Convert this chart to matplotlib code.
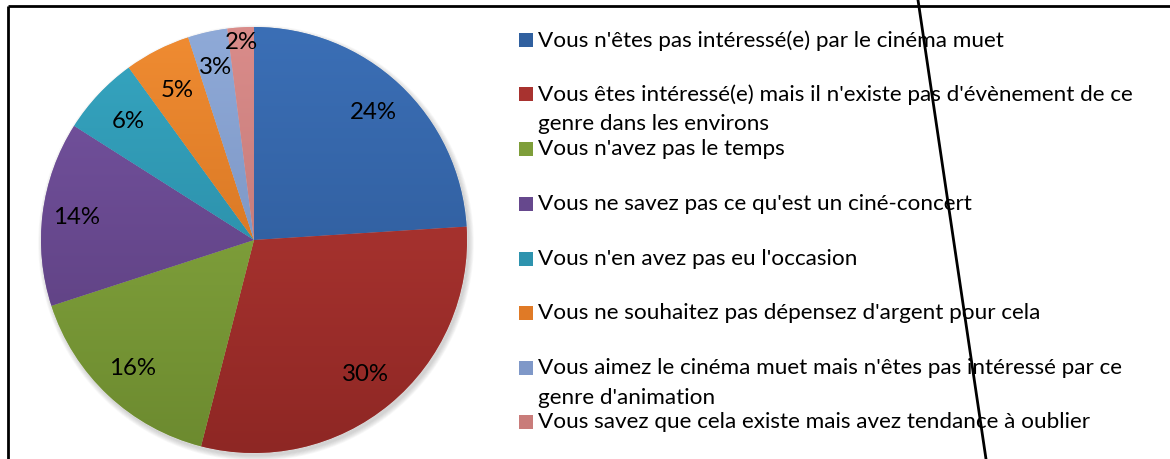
import numpy as np
import matplotlib
matplotlib.use("Agg")
import matplotlib.pyplot as plt
from matplotlib.colors import LinearSegmentedColormap
from matplotlib.patches import Circle, Rectangle

plt.rcParams['font.family'] = ['Lato', 'DejaVu Sans']

# survey answers and their shares (percent)
labels = [
    "Vous n'êtes pas intéressé(e) par le cinéma muet",
    "Vous êtes intéressé(e) mais il n'existe pas d'évènement de ce\ngenre dans les environs",
    "Vous n'avez pas le temps",
    "Vous ne savez pas ce qu'est un ciné-concert",
    "Vous n'en avez pas eu l'occasion",
    "Vous ne souhaitez pas dépensez d'argent pour cela",
    "Vous aimez le cinéma muet mais n'êtes pas intéressé par ce\ngenre d'animation",
    "Vous savez que cela existe mais avez tendance à oublier",
]
shares = [24, 30, 16, 14, 6, 5, 3, 2]

# (top, bottom) shades of each slice
top_colors = ['#3B6FB6', '#BA3B37', '#8DB044', '#7755A3', '#36A6C1', '#F08C32', '#8FAAD8', '#DA8C8A']
bottom_colors = ['#2A5490', '#8E2724', '#6C8A2F', '#573B78', '#25809A', '#C6681A', '#6F87B6', '#B56E6D']
mid_colors = ['#30609F', '#A8322F', '#7E9E3A', '#66488D', '#2E93AE', '#E07A26', '#7F98C8', '#C97C7A']

W, H = 1170, 459
fig = plt.figure(figsize=(W / 100, H / 100), dpi=100)
ax = fig.add_axes([0, 0, 1, 1])
ax.set_xlim(0, W)
ax.set_ylim(0, H)
ax.axis('off')

cx, cy, R = 254, H - 240, 213

# soft drop shadow under the pie
for i in range(7):
    ax.add_patch(Circle((cx + 2, cy - 3), R + 0.8 * i, facecolor='#777777',
                        edgecolor='none', alpha=0.05, zorder=1))

wedges, _ = ax.pie(shares, colors=mid_colors, startangle=90, counterclock=False,
                   center=(cx, cy), radius=R, frame=True,
                   wedgeprops=dict(edgecolor=(1, 1, 1, 0.35), linewidth=0.6, zorder=2))

grad = np.linspace(0, 1, 256).reshape(-1, 1)
for w, c1, c2 in zip(wedges, top_colors, bottom_colors):
    cmap = LinearSegmentedColormap.from_list('g', [c1, c2])
    im = ax.imshow(grad, cmap=cmap, extent=(cx - R, cx + R, cy - R, cy + R),
                   origin='upper', aspect='auto', zorder=2.5, interpolation='bilinear')
    im.set_clip_path(w)

# percentage labels around the pie
label_r = [0.82, 0.82, 0.83, 0.84, 0.81, 0.79, 0.83, 0.93]
start = 90.0
for val, rr in zip(shares, label_r):
    mid = np.deg2rad(start - val * 3.6 / 2)
    start -= val * 3.6
    ax.text(cx + rr * R * np.cos(mid), cy + rr * R * np.sin(mid), f"{val}%",
            ha='center', va='center', fontsize=17.3, color='black', zorder=4)

ax.set_xlim(0, W)
ax.set_ylim(0, H)

# legend
leg_y = [40, 94, 149, 204, 259, 313, 368, 422]
for lab, col, y in zip(labels, mid_colors, leg_y):
    yy = H - y
    ax.add_patch(Rectangle((519, yy - 7), 14, 14, facecolor=col, edgecolor='none', zorder=3))
    ax.text(538, yy + 10, lab, ha='left', va='top', fontsize=16.2,
            color='black', linespacing=1.6, zorder=3)

# frame lines
ax.plot([8, 8], [0, H - 6], color='black', lw=2, solid_capstyle='butt', zorder=5)
ax.plot([8, W], [H - 6, H - 6], color='black', lw=2, solid_capstyle='butt', zorder=5)
ax.plot([918, 986], [H, 0], color='black', lw=2, zorder=5)

fig.savefig('out.png', dpi=100)
